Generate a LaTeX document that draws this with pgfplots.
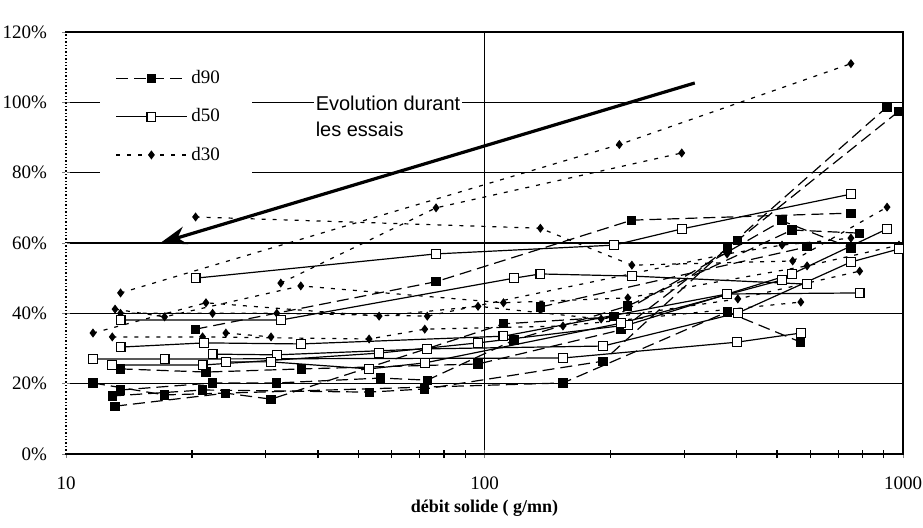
\documentclass[border=0pt]{standalone}
\usepackage{fontspec}
\setmainfont{Liberation Serif}
\newfontfamily\arialfont{Liberation Sans}
\usepackage{pgfplots}
\pgfplotsset{compat=1.18}
\usetikzlibrary{arrows.meta}

\pgfplotsset{
  d90/.style={black, line width=0.6pt, dash pattern=on 6pt off 3pt, mark=square*, mark size=2pt, mark options={solid}},
  d50/.style={black, line width=0.6pt, solid, mark=square*, mark size=2.2pt, mark options={solid, fill=white}},
  d30/.style={black, line width=0.6pt, dash pattern=on 2pt off 3.5pt, mark=diamond*, mark size=1.8pt, mark options={solid}},
}

\begin{document}
\begin{tikzpicture}
\begin{axis}[
    scale only axis,
    width=418.5pt, height=211pt,
    xmode=log, log basis x=10,
    xmin=10, xmax=1000, ymin=0, ymax=120,
    xtick={10,100,1000}, xticklabels={10,100,1000},
    minor xtick={20,30,40,50,60,70,80,90,200,300,400,500,600,700,800,900},
    ytick={0,20,...,120},
    yticklabel={\pgfmathprintnumber{\tick}\%},
    /pgf/number format/assume math mode=true,
    xtick pos=bottom, ytick pos=left,
    tick align=center,
    major tick length=4pt, minor tick length=4pt,
    minor tick style={black, line width=0.6pt},
    grid=major,
    major grid style={black, line width=0.6pt},
    axis line style={black, line width=0.6pt},
    tick label style={font=\fontsize{9.5}{11}\selectfont},
    xticklabel style={yshift=-6pt},
    yticklabel style={xshift=-4pt},
    xlabel={\bfseries débit solide ( g/mn)},
    xlabel style={at={(rel axis cs:0.5,0)}, anchor=center, yshift=-27pt, font=\fontsize{9}{11}\selectfont},
    legend style={at={(axis cs:12.0,114.3)}, anchor=north west, draw=none, fill=white,
        font=\fontsize{9.5}{11}\selectfont, row sep=7pt, inner xsep=8pt, inner ysep=7pt},
    legend cell align=left,
    legend image code/.code={
        \draw[mark repeat=2, mark phase=2, #1] plot coordinates {(0cm,0cm) (0.62cm,0cm) (1.24cm,0cm)};
    },
]
\coordinate (O) at (rel axis cs:0,0);
\coordinate (T) at (rel axis cs:1,1);

% d90
\addplot[d90] coordinates {(20.4,35.5) (76.6,49) (225,66.5) (751,68.5)};
\addlegendentry{d90\hspace*{6pt}}
% d50
\addplot[d50] coordinates {(20.4,50) (76.6,56.9) (204,59.4) (296,64) (751,73.9)};
\addlegendentry{d50}
% d30
\addplot[d30] coordinates {(13.5,45.8) (210,88) (751,111)};
\addlegendentry{d30}

\addplot[d90, forget plot] coordinates {(11.6,20.2) (17.2,16.8) (154,20.2) (380,40.4) (570,31.8)};
\addplot[d90, forget plot] coordinates {(13.5,24.2) (21.6,23.3) (36.6,24.2) (96.5,25.6) (212,35.3) (403,60.8) (978,97.5)};
\addplot[d90, forget plot] coordinates {(12.9,16.5) (21.2,18.2) (53,17.6) (72,18.5) (192,26.4) (380,58.6) (916,98.7)};
\addplot[d90, forget plot] coordinates {(13.5,18.2) (22.4,20.2) (31.9,20.2) (56.5,21.6) (73,21) (117.6,32.4) (220,42.1) (543,63.7) (788,62.8)};
\addplot[d90, forget plot] coordinates {(13.1,13.6) (24.1,17.3) (30.9,15.6) (111,37) (204,39) (514,66.3) (751,58.6)};
\addplot[d90, forget plot] coordinates {(136,41.8) (590,58.9)};

\addplot[d30, forget plot] coordinates {(20.4,67.4) (136,64.2) (225,53.7) (545,54.9) (916,70.2)};
\addplot[d30, forget plot] coordinates {(32.6,48.6) (76.6,70) (296,85.6)};
\addplot[d30, forget plot] coordinates {(13.1,41.2) (17.2,39) (36.4,47.8) (111,43) (220,44.4) (590,53.5) (978,59.4)};
\addplot[d30, forget plot] coordinates {(11.6,34.4) (21.6,43) (56,39.2) (96.5,42) (190,38.4) (403,44.1) (788,52)};
\addplot[d30, forget plot] coordinates {(12.9,33.3) (21.2,33.3) (53,32.7) (72,35.5) (154,36.4) (570,43.2)};
\addplot[d30, forget plot] coordinates {(13.5,40) (22.4,40) (31.9,40) (73,39.2) (380,56.9) (514,59.4) (751,61.4)};
\addplot[d30, forget plot] coordinates {(24.1,34.4) (30.9,33.3)};

\addplot[d50, forget plot] coordinates {(11.6,27) (17.2,27) (154,27.3) (401,31.8) (570,34.4)};
\addplot[d50, forget plot] coordinates {(13.5,38.1) (32.6,38.1) (117.6,50) (136,51.2) (225,50.6) (590,48.3)};
\addplot[d50, forget plot] coordinates {(13.5,30.4) (21.4,31.6) (36.4,31.3) (111,33.5) (380,45.5) (788,45.8)};
\addplot[d50, forget plot] coordinates {(12.9,25.3) (21.2,25.3) (56,28.7) (96.5,31.6) (220,36.7) (543,51.2) (916,64)};
\addplot[d50, forget plot] coordinates {(22.4,28.4) (31.9,28.2) (73,29.9) (192,30.7) (403,40.1) (751,54.6) (978,58.3)};
\addplot[d50, forget plot] coordinates {(24.1,26.2) (30.9,26.2) (53,24.2) (72,25.9) (212,37.2) (514,49.5)};

% annotation
\node[anchor=west, align=left, fill=white, inner sep=1pt, font=\arialfont\fontsize{10}{13}\selectfont]
    at (axis cs:39,96) {Evolution durant\\les essais};
\draw[line width=1.6pt, -{Stealth[length=13pt, width=9pt, inset=4pt]}] (axis cs:318,105.5) -- (axis cs:16.8,60);

% titles
\node[anchor=south west, inner sep=0pt, font=\fontsize{8.5}{10}\selectfont] at ([xshift=2pt, yshift=6pt]rel axis cs:0,1)
    {Rapport décile des matériaux sortant / décile des matériaux de base du lit};
\node[anchor=south east, inner sep=0pt, font=\bfseries\fontsize{8.5}{10}\selectfont] at ([xshift=7pt, yshift=6pt]rel axis cs:1,1)
    {Phase 2};
\end{axis}
\draw[white, line width=1pt] (O) -- (O |- T);
\draw[black, line width=0.7pt, densely dotted] (O) -- (O |- T);
\pgfresetboundingbox
\path ([xshift=-33pt, yshift=-36.5pt]O) rectangle ([xshift=10pt, yshift=16pt]T);
\end{tikzpicture}
\end{document}
